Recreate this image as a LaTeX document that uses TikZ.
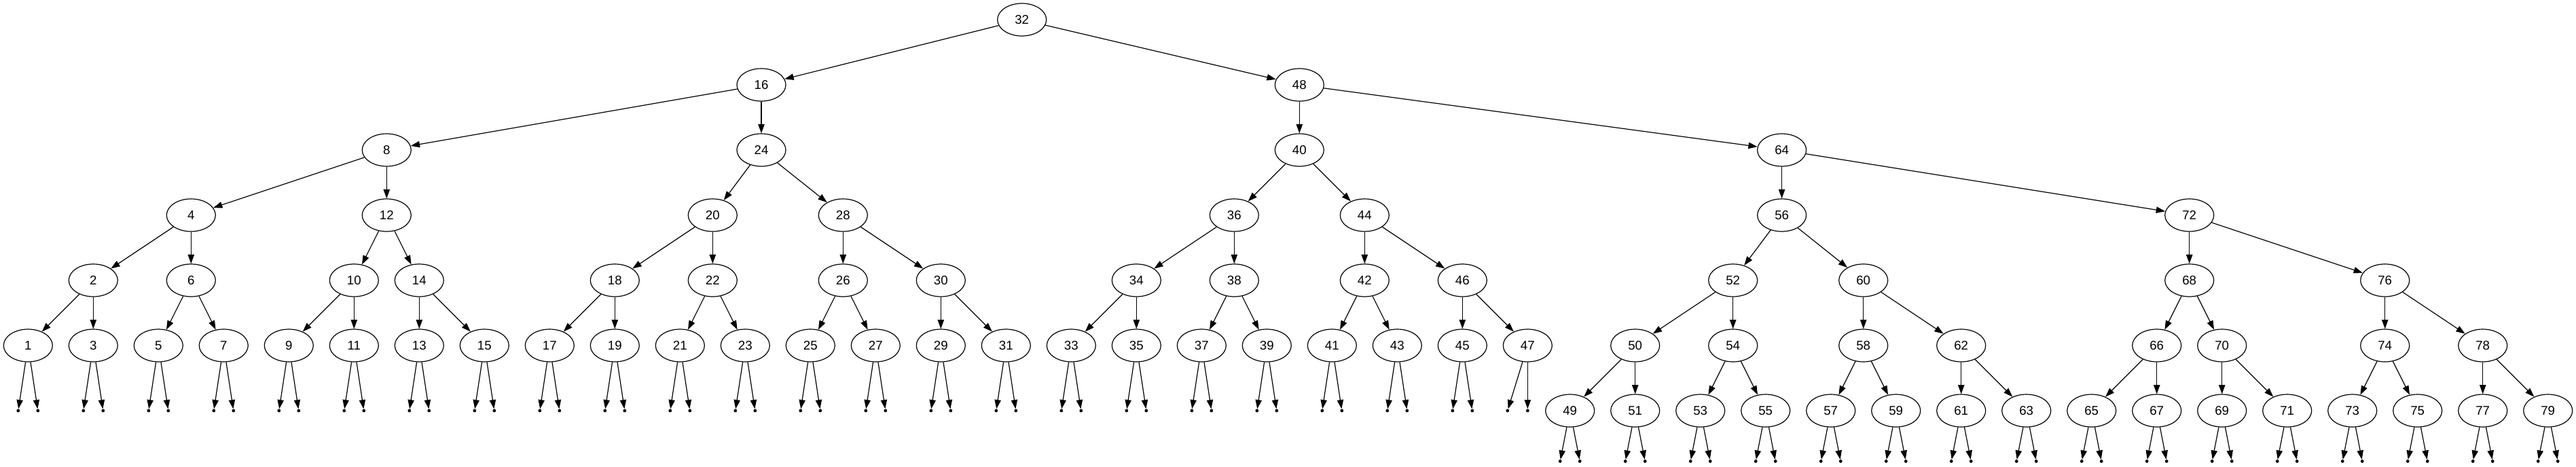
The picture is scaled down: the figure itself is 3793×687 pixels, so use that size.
\documentclass[tikz,border=0pt]{standalone}
\usepackage{fontspec}
\setmainfont{Liberation Sans}
\usetikzlibrary{shapes.geometric,arrows.meta}
\tikzset{
  bstkey/.style={draw,ellipse,line width=0.9pt,minimum width=54pt,minimum height=36pt,inner sep=0pt,font=\fontsize{14pt}{16pt}\selectfont},
  nullpt/.style={circle,fill=black,minimum size=3.6pt,inner sep=0pt},
  link/.style={line width=0.9pt,-{Triangle[length=10pt,width=7pt]}},
}
\begin{document}
\begin{tikzpicture}[x=0.75pt,y=-0.75pt]

\newcommand{\bstchild}[4]{% parent, key, x, y
\node[bstkey] (n#2) at (#3,#4) {#2};
\draw[link] (n#1) -- (n#2);
}
\newcommand{\nullpair}[3]{% key, x of key, y of the null points
\node[nullpt] (n#1l) at (#2-14.5,#3) {};
\node[nullpt] (n#1r) at (#2+14.5,#3) {};
\draw[link] (n#1) -- (n#1l);
\draw[link] (n#1) -- (n#1r);
}

%background
\fill[white] (0,0) rectangle (3793,687);

%root
\node[bstkey] (n32) at (1504.7,29) {32};
%level 1
\bstchild{32}{16}{1121}{125}
\bstchild{32}{48}{1913.3}{125}
%level 2
\bstchild{16}{8}{569.3}{221}
\bstchild{16}{24}{1121}{221}
\bstchild{48}{40}{1913.3}{221}
\bstchild{48}{64}{2623.6}{221}
%level 3
\bstchild{8}{4}{281.3}{317}
\bstchild{8}{12}{569.3}{317}
\bstchild{24}{20}{1049.3}{317}
\bstchild{24}{28}{1241.3}{317}
\bstchild{40}{36}{1817.3}{317}
\bstchild{40}{44}{2009.3}{317}
\bstchild{64}{56}{2623.6}{317}
\bstchild{64}{72}{3223.7}{317}
%level 4
\bstchild{4}{2}{137.3}{413}
\bstchild{4}{6}{281.3}{413}
\bstchild{12}{10}{521.3}{413}
\bstchild{12}{14}{617.3}{413}
\bstchild{20}{18}{905.3}{413}
\bstchild{20}{22}{1049.3}{413}
\bstchild{28}{26}{1241.3}{413}
\bstchild{28}{30}{1385.3}{413}
\bstchild{36}{34}{1673.3}{413}
\bstchild{36}{38}{1817.3}{413}
\bstchild{44}{42}{2009.3}{413}
\bstchild{44}{46}{2153.3}{413}
\bstchild{56}{52}{2551.7}{413}
\bstchild{56}{60}{2743.7}{413}
\bstchild{72}{68}{3223.7}{413}
\bstchild{72}{76}{3511.7}{413}
%level 5
\bstchild{2}{1}{41.3}{509}
\bstchild{2}{3}{137.3}{509}
\bstchild{6}{5}{233.3}{509}
\bstchild{6}{7}{329.3}{509}
\bstchild{10}{9}{425.3}{509}
\bstchild{10}{11}{521.3}{509}
\bstchild{14}{13}{617.3}{509}
\bstchild{14}{15}{713.3}{509}
\bstchild{18}{17}{809.3}{509}
\bstchild{18}{19}{905.3}{509}
\bstchild{22}{21}{1001.3}{509}
\bstchild{22}{23}{1097.3}{509}
\bstchild{26}{25}{1193.3}{509}
\bstchild{26}{27}{1289.3}{509}
\bstchild{30}{29}{1385.3}{509}
\bstchild{30}{31}{1481.3}{509}
\bstchild{34}{33}{1577.3}{509}
\bstchild{34}{35}{1673.3}{509}
\bstchild{38}{37}{1769.3}{509}
\bstchild{38}{39}{1865.3}{509}
\bstchild{42}{41}{1961.3}{509}
\bstchild{42}{43}{2057.3}{509}
\bstchild{46}{45}{2153.3}{509}
\bstchild{46}{47}{2249.3}{509}
\bstchild{52}{50}{2407.7}{509}
\bstchild{52}{54}{2551.7}{509}
\bstchild{60}{58}{2743.7}{509}
\bstchild{60}{62}{2887.7}{509}
\bstchild{68}{66}{3175.7}{509}
\bstchild{68}{70}{3271.7}{509}
\bstchild{76}{74}{3511.7}{509}
\bstchild{76}{78}{3655.7}{509}
%level 6
\bstchild{50}{49}{2311.7}{605}
\bstchild{50}{51}{2407.7}{605}
\bstchild{54}{53}{2503.7}{605}
\bstchild{54}{55}{2599.7}{605}
\bstchild{58}{57}{2695.7}{605}
\bstchild{58}{59}{2791.7}{605}
\bstchild{62}{61}{2887.7}{605}
\bstchild{62}{63}{2983.7}{605}
\bstchild{66}{65}{3079.7}{605}
\bstchild{66}{67}{3175.7}{605}
\bstchild{70}{69}{3271.7}{605}
\bstchild{70}{71}{3367.7}{605}
\bstchild{74}{73}{3463.7}{605}
\bstchild{74}{75}{3559.7}{605}
\bstchild{78}{77}{3655.7}{605}
\bstchild{78}{79}{3751.7}{605}

%null points under level 5
\nullpair{1}{41.3}{605}
\nullpair{3}{137.3}{605}
\nullpair{5}{233.3}{605}
\nullpair{7}{329.3}{605}
\nullpair{9}{425.3}{605}
\nullpair{11}{521.3}{605}
\nullpair{13}{617.3}{605}
\nullpair{15}{713.3}{605}
\nullpair{17}{809.3}{605}
\nullpair{19}{905.3}{605}
\nullpair{21}{1001.3}{605}
\nullpair{23}{1097.3}{605}
\nullpair{25}{1193.3}{605}
\nullpair{27}{1289.3}{605}
\nullpair{29}{1385.3}{605}
\nullpair{31}{1481.3}{605}
\nullpair{33}{1577.3}{605}
\nullpair{35}{1673.3}{605}
\nullpair{37}{1769.3}{605}
\nullpair{39}{1865.3}{605}
\nullpair{41}{1961.3}{605}
\nullpair{43}{2057.3}{605}
\nullpair{45}{2153.3}{605}
%47 has its null points shifted left
\node[nullpt] (n47l) at (2219.8,605) {};
\node[nullpt] (n47r) at (2249.3,605) {};
\draw[link] (n47) -- (n47l);
\draw[link] (n47) -- (n47r);
%null points under level 6
\nullpair{49}{2311.7}{679.5}
\nullpair{51}{2407.7}{679.5}
\nullpair{53}{2503.7}{679.5}
\nullpair{55}{2599.7}{679.5}
\nullpair{57}{2695.7}{679.5}
\nullpair{59}{2791.7}{679.5}
\nullpair{61}{2887.7}{679.5}
\nullpair{63}{2983.7}{679.5}
\nullpair{65}{3079.7}{679.5}
\nullpair{67}{3175.7}{679.5}
\nullpair{69}{3271.7}{679.5}
\nullpair{71}{3367.7}{679.5}
\nullpair{73}{3463.7}{679.5}
\nullpair{75}{3559.7}{679.5}
\nullpair{77}{3655.7}{679.5}
\nullpair{79}{3751.7}{679.5}

\end{tikzpicture}
\end{document}
